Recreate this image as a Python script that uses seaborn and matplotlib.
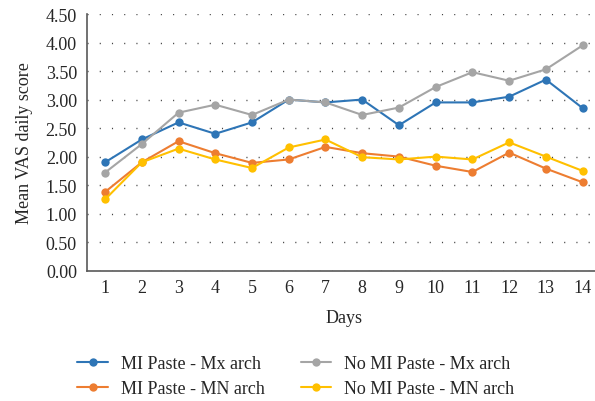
import pandas as pd
import matplotlib
matplotlib.use("Agg")
import matplotlib.pyplot as plt
import seaborn as sns

days = list(range(1, 15))
mi_mx = [1.90, 2.30, 2.60, 2.40, 2.60, 3.00, 2.95, 3.00, 2.55, 2.95, 2.95, 3.05, 3.35, 2.85]
mi_mn = [1.38, 1.90, 2.27, 2.06, 1.89, 1.95, 2.17, 2.06, 2.00, 1.84, 1.73, 2.07, 1.79, 1.55]
no_mx = [1.72, 2.22, 2.77, 2.91, 2.73, 3.00, 2.95, 2.73, 2.86, 3.22, 3.48, 3.33, 3.53, 3.95]
no_mn = [1.25, 1.90, 2.14, 1.95, 1.80, 2.16, 2.30, 1.99, 1.95, 2.00, 1.95, 2.25, 2.00, 1.75]

series_names = ["MI Paste - Mx arch", "MI Paste - MN arch",
                "No MI Paste - Mx arch", "No MI Paste - MN arch"]
series_values = [mi_mx, mi_mn, no_mx, no_mn]
colors = ["#2E75B6", "#ED7D31", "#A5A5A5", "#FFC000"]
y_ticks = [0.0, 0.5, 1.0, 1.5, 2.0, 2.5, 3.0, 3.5, 4.0, 4.5]


def main():
    rows = []
    for name, vals in zip(series_names, series_values):
        for d, v in zip(days, vals):
            rows.append({"Day": d, "Score": v, "Series": name})
    df = pd.DataFrame(rows)

    sns.set_style("white")
    plt.rcParams["font.family"] = ["Liberation Serif", "DejaVu Serif"]

    fig = plt.figure(figsize=(5.95, 4.02), dpi=100)
    ax = fig.add_axes([86.7 / 595, 130.3 / 402, (601 - 86.7) / 595, (271.7 - 15) / 402])

    sns.lineplot(data=df, x="Day", y="Score", hue="Series", hue_order=series_names,
                 palette=colors, marker="o", markersize=6, markeredgewidth=0,
                 linewidth=1.5, ax=ax)

    ax.set_xlim(0.5, 14.5)
    ax.set_ylim(0, 4.5)
    ax.set_xticks(days)
    ax.set_yticks(y_ticks)
    ax.set_yticklabels([f"{t:.2f}" for t in y_ticks])
    ax.tick_params(axis="both", labelsize=13, length=0)
    ax.tick_params(axis="y", pad=7)
    ax.tick_params(axis="x", pad=6)
    ax.yaxis.grid(True, color="#444444", linestyle=(0, (0.8, 8.0)), linewidth=1.0)
    ax.xaxis.grid(False)
    for s in ["top", "right"]:
        ax.spines[s].set_visible(False)
    for s in ["left", "bottom"]:
        ax.spines[s].set_color("#595959")
        ax.spines[s].set_linewidth(1.2)

    ax.set_xlabel("Days", fontsize=13, labelpad=9)
    ax.set_ylabel("Mean VAS daily score", fontsize=13, labelpad=9)

    handles, labels = ax.get_legend_handles_labels()
    ax.legend(handles, labels, ncol=2, frameon=False, fontsize=13,
              loc="upper left", bbox_to_anchor=(70 / 595, (402 - 349) / 402),
              bbox_transform=fig.transFigure, columnspacing=2.0,
              handlelength=1.7, handletextpad=0.7, labelspacing=0.45,
              borderaxespad=0)

    fig.savefig("out.png", dpi=100)


if __name__ == "__main__":
    main()
